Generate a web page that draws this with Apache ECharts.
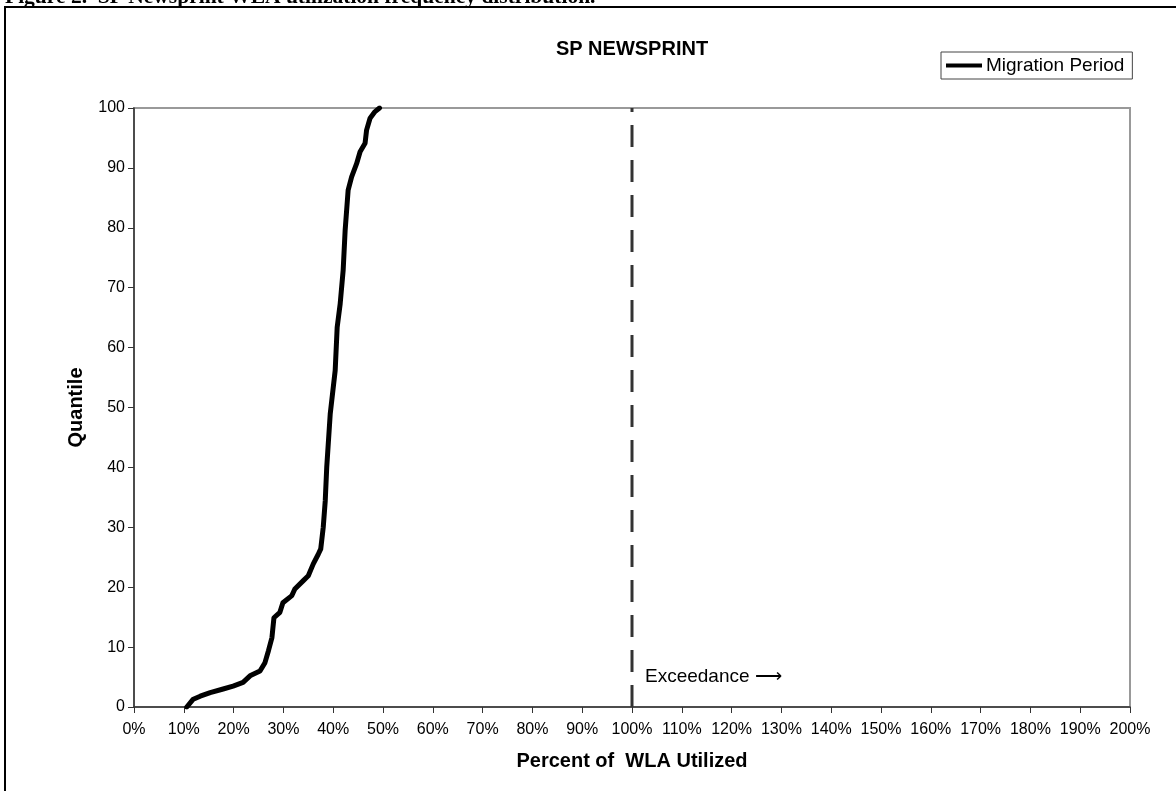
<!DOCTYPE html>
<html>
<head>
<meta charset="utf-8">
<script src="https://cdn.jsdelivr.net/npm/echarts@6/dist/echarts.min.js"></script>
<style>
html,body{margin:0;padding:0;background:#fff;}
#c{width:1176px;height:791px;}
</style>
</head>
<body>
<div id="c"></div>
<script>
// Percent of WLA utilized (x) and quantile (y)
const pctUtilized = [10.6, 11.9, 13.3, 15.3, 17.9, 19.9, 21.9, 23.3, 25.3, 26.3, 27.0, 27.7, 28.1, 29.3, 29.9, 31.7, 32.3, 34.0, 35.0, 36.0, 37.0, 37.5, 38.0, 38.4, 38.7, 39.4, 40.4, 40.8, 41.4, 42.0, 42.4, 43.0, 43.7, 44.7, 45.4, 46.4, 46.7, 47.4, 48.4, 49.3];
const quantile    = [0.0, 1.3, 1.8, 2.4, 3.0, 3.5, 4.1, 5.2, 6.0, 7.4, 9.4, 11.6, 14.9, 15.8, 17.4, 18.6, 19.7, 21.1, 21.9, 23.9, 25.5, 26.4, 30.0, 34.4, 40.0, 48.9, 56.2, 63.4, 67.3, 72.9, 79.6, 86.3, 88.5, 90.7, 92.7, 94.1, 96.3, 98.3, 99.4, 100.0];
const limitX = [100, 100];
const limitY = [0, 100];
const seriesName = 'Migration Period';
const chartTitle = 'SP NEWSPRINT';
const xTitle = 'Percent of  WLA Utilized';
const yTitle = 'Quantile';
const caption = 'Figure 2.  SP Newsprint WLA utilization frequency distribution.';
const annot = 'Exceedance \u27F6';

const curve = pctUtilized.map((x, i) => [x, quantile[i]]);
const limit = limitX.map((x, i) => [x, limitY[i]]);

const chart = echarts.init(document.getElementById('c'), null, {renderer: 'canvas'});
const FONT = '"Liberation Sans", Arial, sans-serif';

chart.setOption({
  animation: false,
  backgroundColor: '#fff',
  title: {
    text: chartTitle,
    left: 632, top: 39, textAlign: 'center', padding: 0,
    textStyle: {fontFamily: FONT, fontWeight: 'bold', fontSize: 20, color: '#000'}
  },
  legend: {
    left: 941, top: 52,
    padding: [4, 8, 4, 5],
    borderColor: '#444', borderWidth: 1,
    itemWidth: 36, itemHeight: 4, itemGap: 0,
    data: [{name: seriesName, icon: 'rect'}],
    textStyle: {fontFamily: FONT, fontSize: 19, color: '#000', padding: [0, 0, 0, -1]}
  },
  grid: {
    left: 134, right: 46, top: 108, bottom: 84,
    show: true, borderColor: '#999', borderWidth: 2, backgroundColor: '#fff'
  },
  xAxis: {
    type: 'value', min: 0, max: 200, interval: 10,
    name: xTitle, nameLocation: 'middle', nameGap: 44,
    nameTextStyle: {fontFamily: FONT, fontWeight: 'bold', fontSize: 20, color: '#000'},
    axisLine: {show: true, lineStyle: {color: '#333', width: 1.5}},
    axisTick: {show: true, length: 6, lineStyle: {color: '#333'}},
    axisLabel: {formatter: '{value}%', fontFamily: FONT, fontSize: 16, color: '#000', margin: 15},
    splitLine: {show: false}
  },
  yAxis: {
    type: 'value', min: 0, max: 100, interval: 10,
    name: yTitle, nameLocation: 'middle', nameGap: 48, nameRotate: 90,
    nameTextStyle: {fontFamily: FONT, fontWeight: 'bold', fontSize: 20, color: '#000'},
    axisLine: {show: true, lineStyle: {color: '#333', width: 1.5}},
    axisTick: {show: true, length: 6, lineStyle: {color: '#333'}},
    axisLabel: {fontFamily: FONT, fontSize: 16, color: '#000', margin: 9},
    splitLine: {show: false}
  },
  series: [
    {
      name: seriesName, type: 'line', data: curve,
      symbol: 'none', color: '#000',
      lineStyle: {color: '#000', width: 5, join: 'round', cap: 'round'},
      z: 3
    },
    {
      name: 'limit', type: 'line', data: limit,
      symbol: 'none', color: '#333', silent: true,
      lineStyle: {color: '#333', width: 3, type: [22, 13]},
      z: 2
    }
  ]
});

const p = chart.convertToPixel({gridIndex: 0}, [100, 5]);
chart.setOption({
  graphic: [
    {
      type: 'rect', z: -1, silent: true,
      shape: {x: 5, y: 7, width: 1200, height: 800},
      style: {fill: null, stroke: '#000', lineWidth: 2}
    },
    {
      type: 'text', x: 5, y: 8, silent: true,
      style: {text: caption, font: 'bold 21.5px "Liberation Serif", "Times New Roman", serif', fill: '#000', verticalAlign: 'bottom'}
    },
    {
      type: 'text', x: p[0] + 13, y: p[1], silent: true,
      style: {text: annot, font: '19px ' + FONT, fill: '#000', verticalAlign: 'middle'}
    }
  ]
});
</script>
</body>
</html>
